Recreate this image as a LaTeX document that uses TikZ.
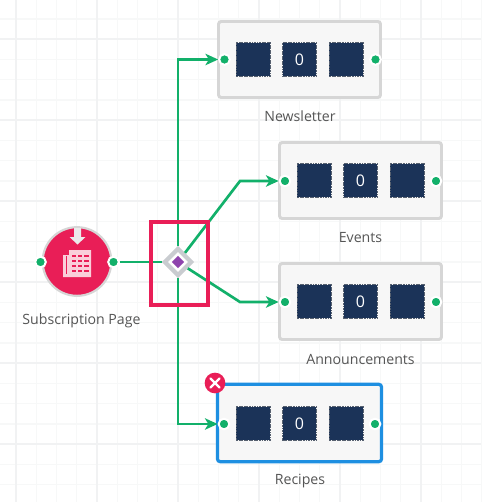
\documentclass[tikz,border=0pt]{standalone}
\usepackage{fontspec}
\setmainfont{Open Sans}
\usetikzlibrary{arrows.meta,calc,shapes.geometric}
\definecolor{gridminor}{HTML}{F7F8F8}
\definecolor{gridmajor}{HTML}{F1F2F3}
\definecolor{linkgreen}{HTML}{12B06A}
\definecolor{navy}{HTML}{1B3358}
\definecolor{crimson}{HTML}{E91E57}
\definecolor{boxfill}{HTML}{F7F7F7}
\definecolor{boxline}{HTML}{D6D6D6}
\definecolor{gateline}{HTML}{C9CCD0}
\definecolor{gatecorecol}{HTML}{8E44AD}
\definecolor{selblue}{HTML}{1E8FE1}
\definecolor{labelgrey}{HTML}{555555}
\tikzset{
  pagebox/.style={rectangle,rounded corners=2pt,draw=boxline,fill=boxfill,line width=2.2pt,minimum width=121.5pt,minimum height=57pt,inner sep=0pt},
  selbox/.style={pagebox,draw=selblue,line width=2.4pt,minimum width=123pt,minimum height=58pt},
  tile/.style={rectangle,fill=navy,draw=gray!60!navy,line width=.35pt,dash pattern=on 1.4pt off .5pt,minimum size=25.2pt,inner sep=0pt,text=white,font=\fontsize{12pt}{12pt}\selectfont},
  port/.style={circle,fill=linkgreen,draw=white,line width=1.5pt,minimum size=8pt,inner sep=0pt},
  link/.style={draw=linkgreen,line width=2pt},
  linkend/.style={link,-{Stealth[length=9.5pt,width=8.5pt,inset=2.5pt]}},
  caption/.style={text=labelgrey,font=\fontsize{10.6pt}{12pt}\selectfont,inner sep=0pt},
}
\begin{document}
\begin{tikzpicture}[x=0.75pt,y=-0.75pt]
\useasboundingbox (0,0) rectangle (481,502);
\fill[white] (0,0) rectangle (481,502);
% grid
\foreach \k in {0,...,23} {\draw[gridminor,line width=.9pt] (16+20.25*\k,0) -- (16+20.25*\k,502);}
\foreach \k in {0,...,24} {\draw[gridminor,line width=.9pt] (0,19+20.25*\k) -- (481,19+20.25*\k);}
\foreach \k in {0,...,5} {\draw[gridmajor,line width=.9pt] (16+81*\k,0) -- (16+81*\k,502);}
\foreach \k in {0,...,5} {\draw[gridmajor,line width=.9pt] (0,39+81*\k) -- (481,39+81*\k);}
% pages
\node[pagebox] (news) at (299.5,59.5) {};
\node[pagebox] (events) at (360.5,180.5) {};
\node[pagebox] (ann) at (360.5,301.5) {};
\node[selbox] (rec) at (299.5,423) {};
\foreach \b/\cx/\cy in {news/299.5/59.5,events/360.5/180.5,ann/360.5/301.5,rec/299.5/423.5} {
  \node[tile] (\b a) at (\cx-46.5,\cy) {};
  \node[tile] (\b b) at (\cx,\cy) {0};
  \node[tile] (\b c) at (\cx+46.5,\cy) {};
}
\node[port] (newsin) at (224.5,59.5) {};
\node[port] (newsout) at (375.5,59.5) {};
\node[port] (eventsin) at (285,181) {};
\node[port] (eventsout) at (436,181) {};
\node[port] (annin) at (285,302) {};
\node[port] (annout) at (436,302) {};
\node[port] (recin) at (224,424) {};
\node[port] (recout) at (375,424) {};
\node[caption] (newscap) at (300,116.5) {Newsletter};
\node[caption] (eventscap) at (360.5,238) {Events};
\node[caption] (anncap) at (360.5,359) {Announcements};
\node[caption] (reccap) at (300,481) {Recipes};
% source
\node[circle,fill=crimson,draw=boxline,line width=1.6pt,minimum size=51.5pt,inner sep=0pt] (src) at (77,261.5) {};
\node[port] (srcin) at (40.5,262) {};
\node[port] (srcout) at (113.5,262) {};
\node[caption] (srccap) at (81.5,320.5) {Subscription Page};
% source icon
\fill[boxfill!90!gray] (74,228) rectangle (81,237) (69.5,237) -- (85.5,237) -- (77.5,244.5) -- cycle;
\fill[white!78!crimson] (69,250) rectangle (91,277) (63,255) rectangle (69,277);
\fill[crimson] (66,256) rectangle (67,274);
\foreach \y in {255,260,265,270} {
  \fill[crimson] (71.5,\y) rectangle (76,\y+2);
  \fill[crimson] (77.5,\y) rectangle (82,\y+2);
  \fill[crimson] (83.5,\y) rectangle (88.5,\y+2);
}
% gateway
\node[diamond,aspect=1,fill=white,draw=gateline,line width=3.2pt,minimum size=21pt,inner sep=0pt] (gate) at (178,262) {};
\node[diamond,aspect=1,fill=gatecorecol,minimum size=9.5pt,inner sep=0pt] (gatecore) at (178,262) {};
% connectors
\coordinate (evbend) at (240,181);
\coordinate (anbend) at (240,302);
\draw[link] (srcout) -- (gate);
\draw[linkend] (gate) |- (newsin);
\draw[linkend] (gate) -- (evbend) -- (eventsin);
\draw[linkend] (gate) -- (anbend) -- (annin);
\draw[linkend] (gate) |- (recin);
% highlight
\node[rectangle,draw=crimson,line width=3pt,minimum width=42.75pt,minimum height=62.25pt,inner sep=0pt,fill=none] (hl) at (179.5,263.5) {};
% delete badge
\node[circle,fill=crimson,minimum size=15.5pt,inner sep=0pt] (del) at (215,383) {};
\draw[white,line width=1.8pt,line cap=round] (210.5,378.5) -- (219.5,387.5) (219.5,378.5) -- (210.5,387.5);
\end{tikzpicture}
\end{document}
